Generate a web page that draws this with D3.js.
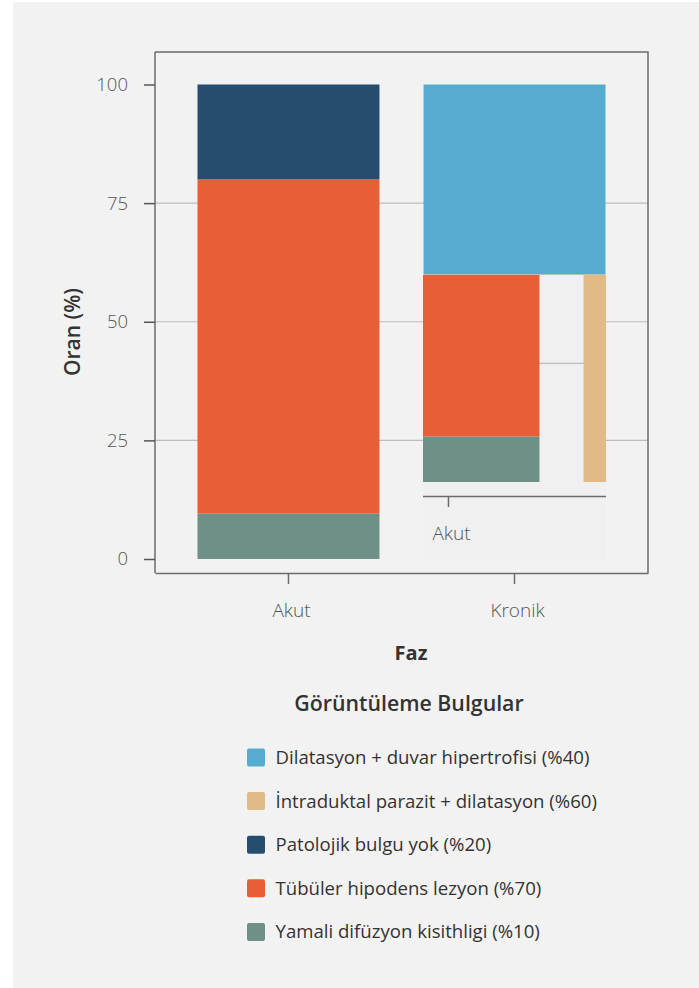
<!DOCTYPE html>
<html><head><meta charset="utf-8">
<script src="https://cdn.jsdelivr.net/npm/d3@7"></script>
<style>
html,body{margin:0;padding:0;background:#fff;}
svg{display:block;font-family:"Open Sans","Noto Sans",sans-serif;}
</style></head>
<body>
<svg id="c" width="699" height="988"></svg>
<script>
// ---- data ----
const categories = ["Akut", "Kronik"];
const seriesKeys = ["Yamali difüzyon kisithligi (%10)", "Tübüler hipodens lezyon (%70)", "Patolojik bulgu yok (%20)", "İntraduktal parazit + dilatasyon (%60)", "Dilatasyon + duvar hipertrofisi (%40)"];
const seriesColors = ["#6e9087", "#e85f37", "#264d70", "#e0bb88", "#55acd0"];
const yamaliValues = [9.6, 0];
const tubulerValues = [70.4, 0];
const patolojikValues = [20, 0];
const intraduktalValues = [0, 60];
const dilatasyonValues = [0, 40];
const yTicks = [0, 25, 50, 75, 100];
const gridTicks = [25, 50, 75];
const legendOrder = [4, 3, 2, 1, 0];

const seriesValues = [yamaliValues, tubulerValues, patolojikValues, intraduktalValues, dilatasyonValues];
const rows = categories.map((c, i) => {
  const r = {cat: c};
  seriesKeys.forEach((k, j) => r[k] = seriesValues[j][i]);
  return r;
});
const stacked = d3.stack().keys(seriesKeys)(rows);
const color = d3.scaleOrdinal().domain(seriesKeys).range(seriesColors);

const svg = d3.select("#c");
svg.append("rect").attr("x", 13).attr("y", 2).attr("width", 686).attr("height", 986).attr("fill", "#f2f2f2");

const L = 155, R = 648, T = 52, B = 573;
const x = d3.scaleBand().domain(categories).range([L, R]).paddingInner(0.195).paddingOuter(0.188);
const y = d3.scaleLinear().domain([0, 100]).range([559, 84.5]);
const FONT = '"Open Sans","Noto Sans",sans-serif';

function drawChart(g, labelFilter) {
  g.append("g").selectAll("line").data(gridTicks).join("line")
    .attr("x1", L).attr("x2", R).attr("y1", d => y(d)).attr("y2", d => y(d))
    .attr("stroke", "#bdbdbd").attr("stroke-width", 1.2);
  g.append("g").selectAll("g").data(stacked).join("g")
    .attr("fill", d => color(d.key))
    .selectAll("rect").data(d => d.filter(p => p[1] - p[0] > 0)).join("rect")
    .attr("x", d => x(d.data.cat)).attr("width", x.bandwidth())
    .attr("y", d => y(d[1])).attr("height", d => y(d[0]) - y(d[1]));
  const xa = g.append("g").attr("transform", `translate(0,${B})`)
    .call(d3.axisBottom(x).tickSize(11).tickPadding(20).tickSizeOuter(0));
  xa.select(".domain").attr("stroke", "#6b6b6b").attr("stroke-width", 1.5);
  xa.selectAll(".tick line").attr("stroke", "#6b6b6b").attr("stroke-width", 1.5);
  xa.selectAll(".tick text").attr("fill", "#555").attr("font-size", 19).attr("font-weight", 300)
    .attr("font-family", FONT).attr("dx", 3);
  if (labelFilter) xa.selectAll(".tick").filter(d => !labelFilter(d)).select("text").remove();
}

const main = svg.append("g");
drawChart(main);
main.append("path").attr("d", `M${L},${T}H${R}V${B}`).attr("fill", "none").attr("stroke", "#6b6b6b").attr("stroke-width", 1.5);
const ya = main.append("g").attr("transform", `translate(${L},0)`)
  .call(d3.axisLeft(y).tickValues(yTicks).tickSize(11).tickPadding(16).tickSizeOuter(0));
ya.select(".domain").attr("d", `M0,${T}V${B}`).attr("stroke", "#6b6b6b").attr("stroke-width", 1.5);
ya.selectAll(".tick line").attr("stroke", "#555").attr("stroke-width", 1.5);
ya.selectAll(".tick text").attr("fill", "#555").attr("font-size", 18.5).attr("font-weight", 300)
  .attr("font-family", FONT);

// inset: shifted, clipped copy of the chart
const IX = 423, IY = 275, IW = 183, IH = 285, DX = 160, DY = -77;
svg.append("clipPath").attr("id", "ic").append("rect")
  .attr("x", IX).attr("y", IY).attr("width", IW).attr("height", IH);
const inset = svg.append("g").attr("clip-path", "url(#ic)");
inset.append("rect").attr("x", IX).attr("y", IY).attr("width", IW).attr("height", IH).attr("fill", "#f0f0f0");
const ig = inset.append("g").attr("transform", `translate(${DX},${DY})`);
drawChart(ig, d => x(d) + x.bandwidth() / 2 + DX + 25 < IX + IW);

svg.append("text").attr("x", 411).attr("y", 660).attr("text-anchor", "middle")
  .attr("font-size", 20).attr("font-weight", 700).attr("fill", "#333").text("Faz");
svg.append("text").attr("transform", "translate(80,332) rotate(-90)").attr("text-anchor", "middle")
  .attr("font-size", 21).attr("font-weight", 600).attr("fill", "#333").text("Oran (%)");

svg.append("text").attr("x", 409).attr("y", 711).attr("text-anchor", "middle")
  .attr("font-size", 21.3).attr("font-weight", 600).attr("fill", "#333").text("Görüntüleme Bulgular");
const lg = svg.append("g").selectAll("g").data(legendOrder).join("g")
  .attr("transform", (d, i) => `translate(247,${757.5 + i * 43.6})`);
lg.append("rect").attr("x", 0).attr("y", -9).attr("width", 18).attr("height", 18).attr("rx", 2)
  .attr("fill", d => seriesColors[d]);
lg.append("text").attr("x", 28.5).attr("y", 0).attr("dy", "0.35em")
  .attr("font-size", 18.6).attr("fill", "#333").text(d => seriesKeys[d]);
</script>
</body></html>
